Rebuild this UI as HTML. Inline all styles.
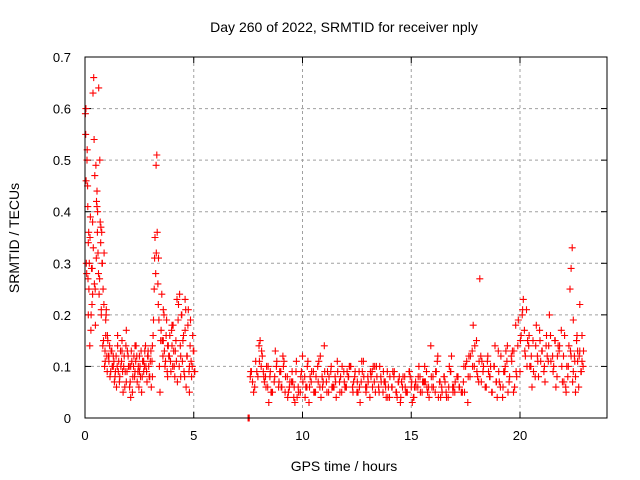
<!DOCTYPE html>
<html><head><meta charset="utf-8"><style>
body{margin:0;background:#fff;}
svg{display:block;font-family:"Liberation Sans",sans-serif;}
</style></head><body>
<svg id="chart" width="640" height="480" viewBox="0 0 640 480">
<rect width="640" height="480" fill="#fff"/>
<text x="344" y="32" font-size="14" text-anchor="middle">Day 260 of 2022, SRMTID for receiver nply</text>
<text x="344" y="471" font-size="14" text-anchor="middle">GPS time / hours</text>
<text transform="translate(19,238) rotate(-90)" font-size="14" text-anchor="middle">SRMTID / TECUs</text>
<g id="grid"></g><g id="ticks"></g><g id="pts"></g>
<rect x="85" y="57" width="522" height="361" fill="none" stroke="#000" stroke-width="1"/>
</svg>
<script>
const xTicks=[0,5,10,15,20];
const yTicks=[0,0.1,0.2,0.3,0.4,0.5,0.6,0.7];
const times=[0.02,0.03,0.05,0.06,0.08,0.1,0.12,0.14,0.15,0.17,0.2,0.22,0.25,0.27,0.3,0.32,0.35,0.37,0.4,0.42,0.45,0.47,0.5,0.52,0.53,0.55,0.57,0.6,0.62,0.65,0.67,0.7,0.72,0.75,0.77,0.8,0.82,0.85,0.87,0.9,0.92,0.95,0.97,1.0,1.02,1.05,1.1,1.15,1.2,1.25,1.3,1.35,1.4,1.45,1.5,1.55,1.6,1.65,1.7,1.75,1.8,1.85,1.9,1.95,2.0,2.05,2.1,2.15,2.2,2.25,2.3,2.35,2.4,2.45,2.5,2.55,2.6,2.65,2.7,2.75,2.8,2.85,2.9,2.95,3.0,3.05,3.1,3.15,3.2,3.22,3.25,3.27,3.3,3.32,3.35,3.37,3.4,3.42,3.45,3.5,3.55,3.6,3.65,3.7,3.75,3.8,3.85,3.9,3.95,4.0,4.05,4.1,4.15,4.2,4.25,4.3,4.35,4.4,4.45,4.5,4.55,4.6,4.65,4.7,4.75,4.8,4.85,4.9,4.95,5.0,5.05,1.1,1.3,1.5,1.7,1.9,2.1,2.3,2.5,2.7,2.9,3.1,3.6,3.8,4.0,4.2,4.4,4.6,4.8,0.15,0.35,0.55,0.75,0.95,
7.5,7.5,
7.6,7.7,7.8,7.9,8.0,8.05,8.1,8.15,8.2,8.25,8.3,8.4,8.5,8.6,8.7,8.8,8.9,9.0,9.1,9.2,9.3,9.4,9.5,9.6,9.7,9.8,9.9,10.0,10.1,10.2,10.3,10.4,10.5,10.6,10.7,10.8,10.9,11.0,11.1,11.2,11.3,11.4,11.5,11.6,11.7,11.8,11.9,12.0,12.1,12.2,12.3,12.4,12.5,12.6,12.7,12.8,12.9,13.0,13.1,13.2,13.3,13.4,13.5,13.6,13.7,13.8,13.9,14.0,14.1,14.2,14.3,14.4,14.5,14.6,14.7,14.8,14.9,15.0,15.1,15.2,15.3,15.4,15.5,15.6,15.7,15.8,15.9,16.0,16.1,16.2,16.3,16.4,16.5,16.6,16.7,16.8,16.9,17.0,17.1,17.2,17.3,17.4,17.5,
7.65,7.85,8.35,8.55,8.75,8.95,9.15,9.35,9.55,9.75,9.95,10.15,10.35,10.55,10.75,10.95,11.15,11.35,11.55,11.75,11.95,12.15,12.35,12.55,12.75,12.95,13.15,13.35,13.55,13.75,13.95,14.15,14.35,14.55,14.75,14.95,15.15,15.35,15.55,15.75,15.95,16.15,16.35,16.55,16.75,16.95,17.15,17.35,
8.45,9.05,9.65,10.25,10.85,11.45,12.05,12.65,13.25,13.85,14.45,15.05,15.65,16.25,16.85,17.45,
17.6,17.7,17.8,17.9,18.0,18.1,18.2,18.3,18.4,18.5,18.6,18.7,18.8,18.9,19.0,19.1,19.2,19.3,19.4,19.5,19.6,19.7,19.8,19.9,20.0,20.05,20.1,20.15,20.2,20.25,20.3,20.4,20.5,20.6,20.7,20.8,20.9,21.0,21.1,21.2,21.3,21.4,21.5,21.6,21.7,21.8,21.9,22.0,22.1,22.15,22.2,22.25,22.3,22.35,22.4,22.45,22.5,22.55,22.6,22.65,22.7,22.75,22.8,22.85,22.9,
17.65,17.85,18.05,18.25,18.45,18.65,18.85,19.05,19.25,19.45,19.65,19.85,20.35,20.55,20.75,20.95,21.15,21.35,21.55,21.75,21.95,22.05,22.35,22.55,22.75,22.85,
18.15,18.55,18.95,19.35,19.75,20.45,20.85,21.25,21.65,22.45,22.65];
const values=[0.59,0.55,0.46,0.3,0.28,0.52,0.45,0.27,0.2,0.36,0.3,0.14,0.39,0.17,0.29,0.22,0.38,0.63,0.66,0.54,0.47,0.25,0.49,0.31,0.42,0.44,0.36,0.32,0.28,0.24,0.27,0.38,0.34,0.21,0.36,0.3,0.14,0.15,0.22,0.1,0.13,0.16,0.2,0.12,0.09,0.15,0.11,0.08,0.13,0.1,0.12,0.07,0.09,0.06,0.14,0.11,0.08,0.1,0.15,0.05,0.12,0.09,0.07,0.13,0.1,0.06,0.04,0.11,0.08,0.12,0.09,0.14,0.07,0.1,0.12,0.08,0.05,0.11,0.09,0.13,0.1,0.07,0.12,0.08,0.11,0.06,0.14,0.19,0.31,0.35,0.28,0.49,0.51,0.36,0.26,0.22,0.19,0.1,0.05,0.17,0.15,0.21,0.13,0.11,0.19,0.08,0.12,0.16,0.09,0.14,0.18,0.1,0.13,0.11,0.07,0.22,0.24,0.12,0.2,0.15,0.09,0.17,0.06,0.12,0.21,0.1,0.19,0.08,0.16,0.13,0.09,0.12,0.1,0.16,0.13,0.17,0.1,0.14,0.09,0.11,0.13,0.08,0.15,0.14,0.18,0.11,0.08,0.23,0.05,0.34,0.24,0.41,0.2,0.19,
0.0,0.0,
0.08,0.07,0.06,0.09,0.14,0.15,0.1,0.12,0.09,0.07,0.08,0.06,0.08,0.05,0.07,0.1,0.06,0.09,0.12,0.05,0.08,0.06,0.07,0.04,0.09,0.06,0.05,0.12,0.08,0.06,0.03,0.07,0.09,0.05,0.1,0.06,0.08,0.14,0.07,0.05,0.09,0.06,0.08,0.11,0.07,0.05,0.09,0.06,0.08,0.1,0.06,0.08,0.05,0.09,0.07,0.11,0.06,0.08,0.04,0.09,0.07,0.1,0.06,0.08,0.05,0.07,0.09,0.04,0.06,0.08,0.05,0.07,0.03,0.06,0.08,0.05,0.09,0.06,0.04,0.07,0.06,0.08,0.05,0.07,0.09,0.06,0.14,0.08,0.05,0.11,0.07,0.06,0.08,0.05,0.04,0.09,0.06,0.05,0.08,0.06,0.05,0.07,0.1,0.09,0.11,
0.1,0.05,0.13,0.09,0.11,0.05,0.07,0.04,0.09,0.06,0.08,0.05,0.11,0.07,0.09,0.06,0.04,0.08,0.06,0.1,0.07,0.05,0.09,0.06,0.08,0.05,0.1,0.07,0.06,0.09,0.04,0.07,0.05,0.08,0.06,0.1,0.07,0.05,0.06,0.09,0.04,0.07,0.1,0.06,0.08,0.05,0.03,0.06,
0.03,0.11,0.04,0.06,0.09,0.03,0.1,0.04,0.08,0.03,0.07,0.04,0.12,0.05,0.03,0.08,
0.13,0.1,0.15,0.07,0.12,0.09,0.06,0.11,0.08,0.05,0.1,0.07,0.13,0.06,0.04,0.09,0.11,0.07,0.12,0.05,0.18,0.14,0.09,0.16,0.2,0.23,0.17,0.12,0.21,0.14,0.1,0.15,0.08,0.12,0.17,0.13,0.09,0.14,0.11,0.16,0.12,0.15,0.08,0.13,0.17,0.12,0.06,0.1,0.08,0.14,0.25,0.29,0.33,0.19,0.12,0.08,0.15,0.11,0.06,0.13,0.09,0.16,0.1,0.12,0.18,
0.08,0.11,0.06,0.1,0.14,0.07,0.09,0.05,0.13,0.08,0.15,0.06,0.18,0.11,0.07,0.2,0.1,0.14,0.07,0.16,0.12,0.05,0.22,0.11,0.27,0.09,
0.04,0.13,0.06,0.1,0.08,0.12,0.06,0.09,0.13,0.17,0.14];
const times2=[0.04,0.09,0.13,0.18,0.23,0.28,0.33,0.38,0.43,0.48,0.58,0.63,0.68,0.73,0.78,0.83,0.88,0.93,0.98,1.03,1.08,1.13,1.18,1.23,1.28,1.33,1.38,1.43,1.48,1.53,1.58,1.63,1.68,1.73,1.78,1.83,1.88,1.93,1.98,2.03,2.08,2.13,2.18,2.23,2.28,2.33,2.38,2.43,2.48,2.53,2.58,2.63,2.68,2.73,2.78,2.83,2.88,2.93,2.98,3.03,3.08,3.13,3.18,3.28,3.38,3.48,3.53,3.58,3.63,3.68,3.73,3.78,3.83,3.88,3.93,3.98,4.03,4.08,4.13,4.18,4.23,4.28,4.33,4.38,4.43,4.48,4.53,4.58,4.63,4.68,4.73,4.78,4.83,4.88,4.93,4.98,5.03,
7.55,7.62,7.75,7.95,8.02,8.12,8.22,8.32,8.42,8.52,8.62,8.72,8.82,8.92,9.02,9.12,9.22,9.32,9.42,9.52,9.62,9.72,9.82,9.92,10.02,10.12,10.22,10.32,10.42,10.52,10.62,10.72,10.82,10.92,11.02,11.12,11.22,11.32,11.42,11.52,11.62,11.72,11.82,11.92,12.02,12.12,12.22,12.32,12.42,12.52,12.62,12.72,12.82,12.92,13.02,13.12,13.22,13.32,13.42,13.52,13.62,13.72,13.82,13.92,14.02,14.12,14.22,14.32,14.42,14.52,14.62,14.72,14.82,14.92,15.02,15.12,15.22,15.32,15.42,15.52,15.62,15.72,15.82,15.92,16.02,16.12,16.22,16.32,16.42,16.52,16.62,16.72,16.82,16.92,17.02,17.12,17.22,17.32,17.42,
17.55,17.62,17.72,17.82,17.92,18.02,18.12,18.22,18.32,18.42,18.52,18.62,18.72,18.82,18.92,19.02,19.12,19.22,19.32,19.42,19.52,19.62,19.72,19.82,19.92,20.02,20.12,20.22,20.32,20.42,20.52,20.62,20.72,20.82,20.92,21.02,21.12,21.22,21.32,21.42,21.52,21.62,21.72,21.82,21.92,22.02,22.12,22.22,22.32,22.42,22.52,22.62,22.72,22.82,22.92];
const values2=[0.6,0.5,0.41,0.25,0.35,0.2,0.29,0.33,0.26,0.18,0.4,0.64,0.5,0.37,0.3,0.25,0.32,0.11,0.21,0.16,0.12,0.14,0.09,0.13,0.1,0.11,0.08,0.12,0.1,0.09,0.07,0.13,0.11,0.09,0.1,0.06,0.14,0.09,0.12,0.1,0.07,0.13,0.05,0.1,0.08,0.11,0.12,0.09,0.06,0.1,0.13,0.08,0.11,0.1,0.14,0.09,0.12,0.1,0.08,0.13,0.11,0.16,0.25,0.32,0.31,0.15,0.24,0.12,0.2,0.1,0.16,0.09,0.14,0.12,0.11,0.17,0.1,0.13,0.08,0.15,0.23,0.19,0.1,0.14,0.2,0.11,0.16,0.08,0.21,0.12,0.18,0.09,0.14,0.11,0.1,0.13,0.09,
0.0,0.09,0.05,0.08,0.11,0.13,0.08,0.06,0.1,0.09,0.05,0.08,0.11,0.07,0.06,0.1,0.08,0.04,0.07,0.09,0.06,0.11,0.05,0.08,0.07,0.04,0.1,0.06,0.09,0.05,0.08,0.07,0.12,0.06,0.09,0.05,0.08,0.1,0.06,0.07,0.09,0.05,0.1,0.07,0.06,0.08,0.1,0.05,0.09,0.07,0.06,0.11,0.08,0.05,0.07,0.09,0.06,0.1,0.08,0.05,0.07,0.09,0.06,0.04,0.08,0.06,0.09,0.05,0.07,0.04,0.08,0.06,0.05,0.09,0.07,0.04,0.06,0.08,0.05,0.07,0.1,0.06,0.04,0.08,0.06,0.09,0.12,0.07,0.05,0.08,0.04,0.06,0.09,0.05,0.07,0.08,0.06,0.05,0.1,
0.11,0.08,0.12,0.1,0.14,0.09,0.11,0.07,0.1,0.06,0.12,0.08,0.05,0.1,0.07,0.09,0.12,0.06,0.1,0.14,0.08,0.11,0.13,0.09,0.19,0.15,0.21,0.13,0.1,0.16,0.12,0.09,0.14,0.11,0.15,0.13,0.1,0.16,0.14,0.11,0.09,0.15,0.12,0.14,0.1,0.07,0.05,0.1,0.13,0.07,0.11,0.16,0.12,0.09,0.13];
const X0=85,X1=607,Y0=418,Y1=57,XMAX=24,YMAX=0.7;
const sx=t=>X0+t/XMAX*(X1-X0);
const sy=v=>Y0-v/YMAX*(Y0-Y1);
const NS="http://www.w3.org/2000/svg";
const grid=document.getElementById('grid'),ticks=document.getElementById('ticks'),pts=document.getElementById('pts');
function mk(tag,attrs,parent){const e=document.createElementNS(NS,tag);for(const k in attrs)e.setAttribute(k,attrs[k]);parent.appendChild(e);return e;}
xTicks.forEach(t=>{
  const x=sx(t);
  if(t>0){const g=mk('line',{x1:x,x2:x,y1:Y1,y2:Y0,stroke:'#a0a0a0','stroke-dasharray':'3,3'},grid);
  
  }
  const tx=mk('text',{x:x,y:Y0+22,'font-size':13,'text-anchor':'middle'},ticks);tx.textContent=t;
  
  
  mk('line',{x1:x,x2:x,y1:Y0,y2:Y0-6,stroke:'#000'},ticks);
  mk('line',{x1:x,x2:x,y1:Y1,y2:Y1+6,stroke:'#000'},ticks);
});
yTicks.forEach(v=>{
  const y=sy(v);
  if(v>0&&v<YMAX){const g=mk('line',{x1:X0,x2:X1,y1:y,y2:y,stroke:'#a0a0a0','stroke-dasharray':'3,3'},grid);
  
  }
  const tx=mk('text',{x:X0-14,y:y+5,'font-size':13,'text-anchor':'end'},ticks);tx.textContent=(v===0?'0':v.toFixed(1));
  
  
  mk('line',{x1:X0,x2:X0+6,y1:y,y2:y,stroke:'#000'},ticks);
  mk('line',{x1:X1,x2:X1-6,y1:y,y2:y,stroke:'#000'},ticks);
});
let d='';
function addPts(ts,vs){
  for(let i=0;i<ts.length&&i<vs.length;i++){
    const x=sx(ts[i]),y=sy(vs[i]);
    d+=`M${(x-3.5).toFixed(1)} ${y.toFixed(1)}h7M${x.toFixed(1)} ${(y-3.5).toFixed(1)}v7`;
  }
}
addPts(times,values);
addPts(times2,values2);
const p=mk('path',{d:d,stroke:'#ff0000','stroke-width':1.1,fill:'none'},pts);


</script>
</body></html>
